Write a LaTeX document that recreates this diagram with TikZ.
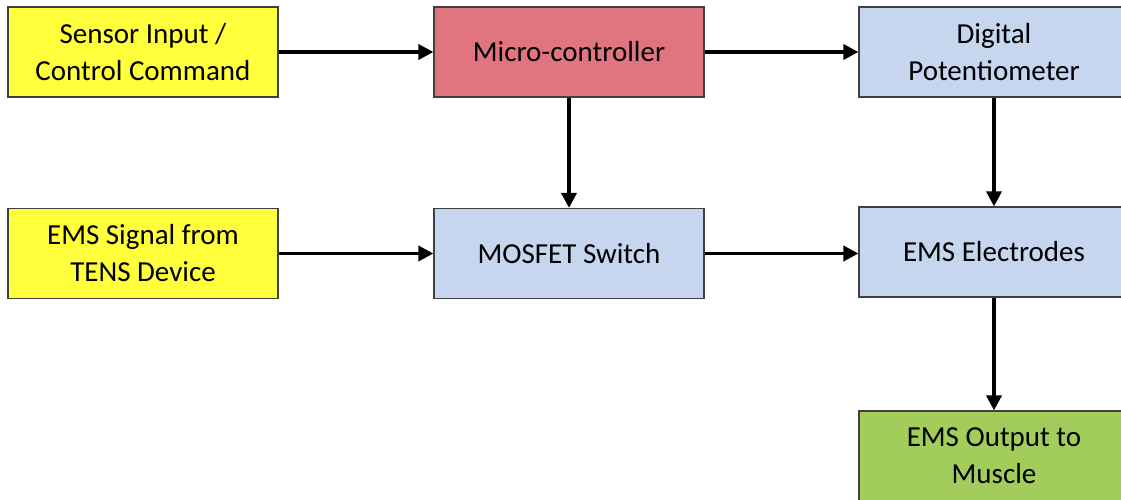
\documentclass[tikz,border=0pt]{standalone}
\usepackage{fontspec}
\setmainfont{Carlito}
\usetikzlibrary{arrows.meta}
\definecolor{ylw}{HTML}{FFFF3B}
\definecolor{redbox}{HTML}{E07580}
\definecolor{bluebox}{HTML}{C5D6EE}
\definecolor{greenbox}{HTML}{A3CD5A}
\definecolor{edge}{HTML}{404040}
\tikzset{
  blk/.style={draw=edge, line width=1.2pt, minimum width=270pt, minimum height=90pt, inner sep=0pt, align=center, font=\fontsize{29}{37}\selectfont, text=black},
  conn/.style={line width=3.6pt, -{Triangle[length=15pt,width=15pt]}}
}
\begin{document}
\begin{tikzpicture}[x=1pt,y=-1pt]
\useasboundingbox (0,0) rectangle (1121,499);
\clip (0,0) rectangle (1121,499);
\fill[white] (0,0) rectangle (1121,499);
\node[blk, fill=ylw] (sensor) at (143,52) {Sensor Input /\\Control Command};
\node[blk, fill=redbox] (micro) at (569,52) {Micro-controller};
\node[blk, fill=bluebox] (pot) at (994,52) {Digital\\Potentiometer};
\node[blk, fill=ylw] (ems) at (143,253.5) {EMS Signal from\\TENS Device};
\node[blk, fill=bluebox] (mosfet) at (569,253.5) {MOSFET Switch};
\node[blk, fill=bluebox] (elec) at (994,252) {EMS Electrodes};
\node[blk, fill=greenbox] (out) at (994,456) {EMS Output to\\Muscle};
\draw[conn] (sensor.east) -- (micro.west);
\draw[conn] (micro.east) -- (pot.west);
\draw[conn] (micro.south) -- (mosfet.north);
\draw[conn] (ems.east) -- (mosfet.west);
\draw[conn] (mosfet.east) -- (mosfet.east -| elec.west);
\draw[conn] (pot.south) -- (elec.north);
\draw[conn] (elec.south) -- (out.north);
\end{tikzpicture}
\end{document}
